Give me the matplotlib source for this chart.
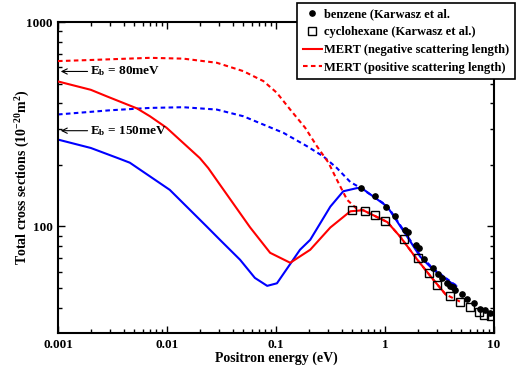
"""
Total cross sections for positron scattering: MERT curves vs. Karwasz data
"""

import numpy as np
import matplotlib
matplotlib.use("Agg")
import matplotlib.pyplot as plt

plt.rcParams['font.family'] = ['Liberation Serif', 'DejaVu Serif']
plt.rcParams['font.weight'] = 'bold'
plt.rcParams['mathtext.fontset'] = 'custom'
plt.rcParams['mathtext.rm'] = 'Liberation Serif:bold'
plt.rcParams['mathtext.it'] = 'Liberation Serif:bold'
plt.rcParams['mathtext.bf'] = 'Liberation Serif:bold'

# MERT, negative scattering length, Eb = 80 meV (red solid)
red_neg_e = [0.001, 0.002, 0.0028, 0.0053, 0.00697, 0.0099, 0.02, 0.0239, 0.0306,
             0.0578, 0.0883, 0.135, 0.206, 0.315, 0.481, 0.63, 1.05, 1.38, 1.98,
             2.78, 3.6]
red_neg_s = [512, 466, 433, 378, 346, 304, 216, 193, 160,
             99, 74.3, 66.4, 76.9, 98.8, 118.6, 120, 105, 89, 68.7,
             54.8, 46.5]

# MERT, positive scattering length (red dashed)
red_pos_e = [0.001, 0.002, 0.00697, 0.0141, 0.0286, 0.0501, 0.0766, 0.1016, 0.135,
             0.185, 0.237, 0.303, 0.36, 0.449, 0.55, 0.63, 1.05, 1.38, 1.98, 2.78,
             3.6, 4.9]
red_pos_s = [644, 652, 668, 662, 632, 575, 514, 451, 373,
             304, 247, 205, 170, 135, 122, 120, 105, 89, 68.7, 54.8,
             46.5, 42.8]

# MERT, negative scattering length, Eb = 150 meV (blue solid)
blue_neg_e = [0.001, 0.002, 0.0037, 0.00456, 0.0106, 0.0231, 0.0306, 0.0468, 0.064,
              0.083, 0.102, 0.166, 0.206, 0.315, 0.414, 0.553, 0.61, 1.05, 1.6,
              2.11, 2.78, 4.24, 4.5]
blue_neg_s = [266, 242, 214, 205, 151, 100, 86, 68.7, 56,
              51.2, 52.7, 76.9, 86, 125, 148.6, 154, 154, 125, 89,
              71, 61.3, 52, 51]

# MERT, positive scattering length (blue dashed)
blue_pos_e = [0.001, 0.003, 0.00697, 0.0141, 0.0286, 0.0501, 0.0766, 0.117, 0.192,
              0.272, 0.362, 0.48, 0.6, 1.05, 1.6, 2.11, 2.78, 4.24, 4.5]
blue_pos_s = [353, 370, 380, 383, 373, 346, 315, 287, 247,
              220, 193, 165, 154, 126, 90, 72, 62, 52.5, 51.5]

# Karwasz et al. experimental data
benzene_e = [0.605, 0.815, 1.03, 1.24, 1.54, 1.63, 1.94, 2.04, 2.26, 2.76, 3.07,
             3.34, 3.72, 3.93, 4.22, 4.43, 5.10, 5.67, 6.52, 7.51, 8.18, 9.15, 10.2]
benzene_s = [154, 141, 124.5, 112, 96.3, 93.5, 81.1, 78.4, 69.2, 62.5, 58.4,
             55.8, 52.8, 51.2, 50.5, 49.0, 46.7, 44.1, 42.1, 39.4, 38.8, 37.9, 37.3]

cyclohex_e = [0.497, 0.65, 0.815, 1.01, 1.50, 2.0, 2.52, 3.01, 3.98, 4.85,
              6.08, 7.25, 8.05, 9.29]
cyclohex_s = [120.7, 118.4, 113.3, 105.8, 87.1, 70.0, 59.1, 51.8, 45.7, 42.9,
              40.3, 38.3, 36.9, 36.5]

fig = plt.figure(figsize=(5.16, 3.67), dpi=100)
ax = fig.add_axes([0.1124, 0.0926, 0.8450, 0.8474])

dash = (0, (2.2, 1.6))
ax.plot(blue_pos_e, blue_pos_s, color='blue', lw=1.5, ls=dash, zorder=2)
ax.plot(blue_neg_e, blue_neg_s, color='blue', lw=1.5, zorder=2)
ax.plot(benzene_e, benzene_s, 'o', color='black', ms=3.8, zorder=4,
        label='benzene (Karwasz et al.')
ax.plot(cyclohex_e, cyclohex_s, 's', mfc='none', mec='black', mew=1.0, ms=6,
        zorder=4, label='cyclohexane (Karwasz et al.)')
ax.plot(red_neg_e, red_neg_s, color='red', lw=1.5, zorder=3,
        label='MERT (negative scattering length)')
ax.plot(red_pos_e, red_pos_s, color='red', lw=1.5, ls=dash, zorder=3,
        label='MERT (positive scattering length)')

ax.set_xscale('log')
ax.set_yscale('log')
ax.set_xlim(0.001, 10)
ax.set_ylim(30.1, 1000)

ax.set_xticks([0.001, 0.01, 0.1, 1, 10])
ax.set_xticklabels(['0.001', '0.01', '0.1', '1', '10'])
ax.set_yticks([100, 1000])
ax.set_yticklabels(['100', '1000'])
ax.yaxis.set_minor_formatter(matplotlib.ticker.NullFormatter())
ax.xaxis.set_minor_formatter(matplotlib.ticker.NullFormatter())

ax.tick_params(which='both', direction='in', top=True, right=True,
               labelsize=9.5, width=1.0)
ax.tick_params(which='major', length=5, pad=4)
ax.tick_params(which='minor', length=3)
for sp in ax.spines.values():
    sp.set_linewidth(1.5)

ax.set_xlabel('Positron energy (eV)', fontsize=10, fontweight='bold', labelpad=1)
ax.set_ylabel('Total cross sections (10$^{-20}$m$^{2}$)', fontsize=10,
              fontweight='bold')
ax.yaxis.set_label_coords(-0.06, 0.5)

# binding energy annotations
ax.annotate('E$_\\mathregular{b}$ = 80meV', xy=(0.00106, 573), xytext=(0.00198, 573),
            fontsize=9.5, fontweight='bold', va='center',
            arrowprops=dict(arrowstyle='->', color='black', lw=0.8,
                            shrinkA=0, shrinkB=0))
ax.annotate('E$_\\mathregular{b}$ = 150meV', xy=(0.00106, 294), xytext=(0.00198, 294),
            fontsize=9.5, fontweight='bold', va='center',
            arrowprops=dict(arrowstyle='->', color='black', lw=0.8,
                            shrinkA=0, shrinkB=0))

leg = ax.legend(loc='upper right', bbox_to_anchor=(515 / 516, 1 - 3 / 367),
                bbox_transform=fig.transFigure, borderaxespad=0,
                fontsize=9, frameon=True, fancybox=False, framealpha=1,
                edgecolor='black', handlelength=1.5, handletextpad=0.2,
                borderpad=0.45, labelspacing=0.45)
leg.get_frame().set_linewidth(1.2)
leg.set_zorder(10)

fig.savefig('out.png', dpi=100)
